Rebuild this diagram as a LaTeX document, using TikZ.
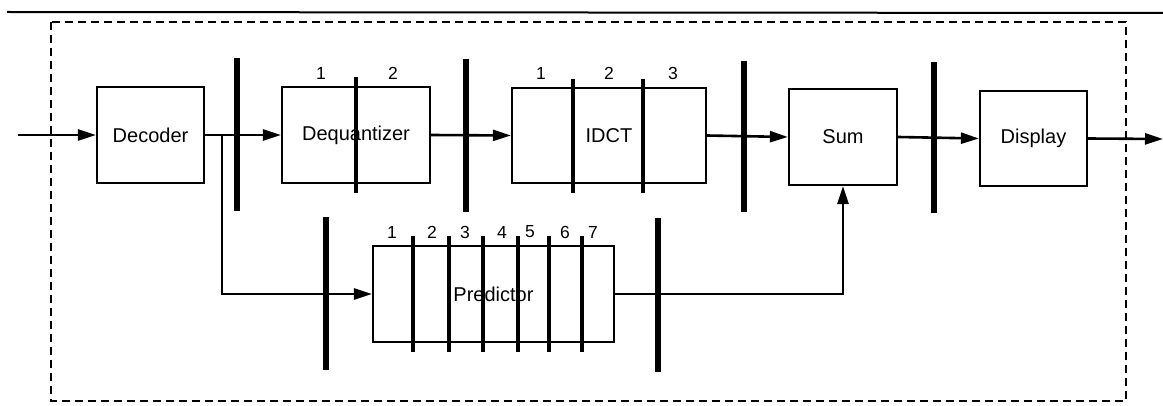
\documentclass[tikz,border=0pt]{standalone}
\usepackage{fontspec}
\setmainfont{Liberation Sans}
\usetikzlibrary{arrows.meta}
\begin{document}
\begin{tikzpicture}[x=1pt,y=-1pt,
  blk/.style={draw,line width=2.2pt,inner sep=0pt,font=\fontsize{20}{22}\selectfont},
  flow/.style={line width=2.6pt,-{Triangle[length=18pt,width=11pt]}},
  bar/.style={line width=6pt},
  ibar/.style={line width=3.6pt},
  num/.style={font=\fontsize{17.5}{19}\selectfont,inner sep=0pt}]
\useasboundingbox (0,0) rectangle (1163,406);
% top rule and dashed frame
\draw[line width=2pt] (7,12) -- (1163,13);
\draw[line width=2.6pt,dash pattern=on 8pt off 5pt] (51,22) rectangle (1126,401);
% boxes
\node[blk,minimum width=107pt,minimum height=96pt] (dec) at (150.5,135) {Decoder};
\node[blk,minimum width=148pt,minimum height=96pt] (deq) at (356,135) {Dequantizer};
\node[blk,minimum width=194pt,minimum height=95pt] (idct) at (609,135.5) {IDCT};
\node[blk,minimum width=108pt,minimum height=96pt] (sum) at (843,137) {Sum};
\node[blk,minimum width=107pt,minimum height=95pt] (disp) at (1033.5,138.5) {Display};
\node[blk,minimum width=241pt,minimum height=96pt] (pred) at (493.5,294) {Predictor};
% free ends
\coordinate (in) at (18,135);
\coordinate (out) at (1163,139);
\coordinate (br) at (222,135);
% connectors
\draw[flow] (in) -- (dec.west);
\draw[flow] (dec.east) -- (deq.west);
\draw[flow] (deq.east) -- (idct.west);
\draw[flow] (idct.east) -- (sum.west);
\draw[flow] (sum.east) -- (disp.west);
\draw[flow] (disp.east) -- (out);
\draw[flow] (br) |- (pred.west);
\draw[flow] (pred.east) -| (sum.south);
% pipeline registers (thick bars)
\draw[bar] (237,58) -- (237,211);
\draw[bar] (466,59) -- (466,212);
\draw[bar] (744,61) -- (744,212);
\draw[bar] (934,62) -- (934,213);
\draw[bar] (326,217) -- (326,370);
\draw[bar] (658,218) -- (658,372);
% internal stage bars
\draw[ibar] (356,77) -- (356,193);
\draw[ibar] (573,79) -- (573,193);
\draw[ibar] (643,79) -- (643,193);
\foreach \x in {413,449,483,518,549,582} \draw[ibar] (\x,236) -- (\x,352);
% stage numbers
\node[num] (dq1) at (321,73) {1};
\node[num] (dq2) at (393,73) {2};
\node[num] (id1) at (541,73) {1};
\node[num] (id2) at (609,73) {2};
\node[num] (id3) at (673,73) {3};
\node[num] (p1) at (392,232) {1};
\node[num] (p2) at (432,232) {2};
\node[num] (p3) at (465,232) {3};
\node[num] (p4) at (502,232) {4};
\node[num] (p5) at (530,232) {5};
\node[num] (p6) at (565,232) {6};
\node[num] (p7) at (593,232) {7};
\end{tikzpicture}
\end{document}
